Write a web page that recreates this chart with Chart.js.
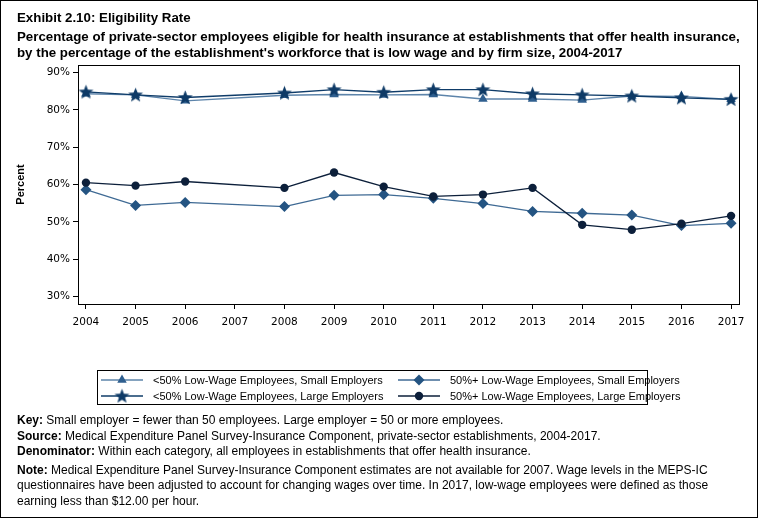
<!DOCTYPE html>
<html>
<head>
<meta charset="utf-8">
<script src="https://cdn.jsdelivr.net/npm/chart.js@4.4.1/dist/chart.umd.min.js"></script>
<style>
  body { margin: 0; background: #fff; }
  #wrap { position: relative; width: 758px; height: 518px; overflow: hidden; background: #fff; }
  #wrap canvas { position: absolute; left: 0; top: 0; }
  .frame { position: absolute; left: 0; top: 0; width: 758px; height: 518px; box-sizing: border-box; border: 1px solid #000; pointer-events: none; }
  .title { position: absolute; left: 17px; top: 10px; font-family: "Liberation Sans", Arial, sans-serif; font-weight: bold; font-size: 13.3px; line-height: 16px; color: #000; white-space: nowrap; }
  .title div.first { margin-bottom: 3px; }
  .notes { position: absolute; left: 17px; top: 413px; font-family: "Liberation Sans", Arial, sans-serif; font-size: 12px; line-height: 15.5px; color: #000; }
  .notes p { margin: 0; }
  .notes p.gap { margin-top: 3px; }
</style>
</head>
<body>
<div id="wrap">
  <canvas id="chart" width="758" height="518"></canvas>
  <div class="title">
    <div class="first">Exhibit 2.10: Eligibility Rate</div>
    <div>Percentage of private-sector employees eligible for health insurance at establishments that offer health insurance,</div>
    <div>by the percentage of the establishment's workforce that is low wage and by firm size, 2004-2017</div>
  </div>
  <div class="notes">
    <p><b>Key:</b> Small employer = fewer than 50 employees. Large employer = 50 or more employees.</p>
    <p><b>Source:</b> Medical Expenditure Panel Survey-Insurance Component, private-sector establishments, 2004-2017.</p>
    <p><b>Denominator:</b> Within each category, all employees in establishments that offer health insurance.</p>
    <p class="gap"><b>Note:</b> Medical Expenditure Panel Survey-Insurance Component estimates are not available for 2007. Wage levels in the MEPS-IC<br>
    questionnaires have been adjusted to account for changing wages over time. In 2017, low-wage employees were defined as those<br>
    earning less than $12.00 per hour.</p>
  </div>
  <div class="frame"></div>
</div>

<script>
// data (no survey in 2007)
const years = [2004, 2005, 2006, 2008, 2009, 2010, 2011, 2012, 2013, 2014, 2015, 2016, 2017];
const tickYears = [2004, 2005, 2006, 2007, 2008, 2009, 2010, 2011, 2012, 2013, 2014, 2015, 2016, 2017];
const yTicks = [30, 40, 50, 60, 70, 80, 90];

const lowUnder50Small = [84.3, 84.0, 82.4, 83.9, 84.1, 84.0, 84.1, 82.9, 82.9, 82.6, 83.7, 83.6, 82.8];
const low50PlusSmall  = [58.6, 54.4, 55.2, 54.1, 57.1, 57.3, 56.3, 54.9, 52.8, 52.3, 51.8, 49.0, 49.6];
const lowUnder50Large = [84.8, 84.0, 83.3, 84.5, 85.4, 84.7, 85.4, 85.4, 84.3, 84.0, 83.7, 83.2, 82.8];
const low50PlusLarge  = [60.5, 59.7, 60.8, 59.1, 63.2, 59.4, 56.8, 57.3, 59.1, 49.2, 47.9, 49.5, 51.6];

const seriesNames = [
  '<50% Low-Wage Employees, Small Employers',
  '50%+ Low-Wage Employees, Small Employers',
  '<50% Low-Wage Employees, Large Employers',
  '50%+ Low-Wage Employees, Large Employers'
];

// filled five point star, chart.js 'star' is only strokes
function makeStar(color) {
  const c = document.createElement('canvas');
  c.width = 17; c.height = 17;
  const g = c.getContext('2d');
  g.fillStyle = color;
  g.beginPath();
  for (let i = 0; i < 10; i++) {
    const r = i % 2 === 0 ? 7.8 : 3.3;
    const a = -Math.PI / 2 + i * Math.PI / 5;
    const px = 8.5 + r * Math.cos(a), py = 9 + r * Math.sin(a);
    if (i === 0) g.moveTo(px, py); else g.lineTo(px, py);
  }
  g.closePath();
  g.fill();
  return c;
}

const pts = (vals) => years.map((yr, i) => ({ x: yr, y: vals[i] }));

const datasets = [
  { label: seriesNames[0], data: pts(lowUnder50Small), borderColor: '#5d84aa', backgroundColor: '#2f5f8f',
    pointStyle: 'triangle', pointRadius: 5.5, order: 3 },
  { label: seriesNames[1], data: pts(low50PlusSmall), borderColor: '#3f6a94', backgroundColor: '#245482',
    pointStyle: 'rectRot', pointRadius: 5.5, order: 2 },
  { label: seriesNames[2], data: pts(lowUnder50Large), borderColor: '#0f3c69', backgroundColor: '#0e3a66',
    pointStyle: makeStar('#0e3a66'), order: 1 },
  { label: seriesNames[3], data: pts(low50PlusLarge), borderColor: '#0c1f3a', backgroundColor: '#0c1f3a',
    pointStyle: 'circle', pointRadius: 4.2, order: 0 }
];
datasets.forEach(d => {
  d.borderWidth = 1.3;
  d.pointBorderWidth = 0;
  d.pointBorderColor = d.backgroundColor;
  d.pointBackgroundColor = d.backgroundColor;
  d.tension = 0;
  d.fill = false;
});

const frameAndLegend = {
  id: 'frameAndLegend',
  afterDraw(chart) {
    const ctx = chart.ctx;
    const a = chart.chartArea;
    ctx.save();
    ctx.strokeStyle = '#000';
    ctx.lineWidth = 1;
    ctx.strokeRect(Math.round(a.left) + 0.5, Math.round(a.top) + 0.5, Math.round(a.right - a.left), Math.round(a.bottom - a.top));

    // legend box below the axis
    ctx.strokeRect(97.5, 370.5, 550, 34);
    ctx.font = '11px "Liberation Sans", Arial, sans-serif';
    ctx.textBaseline = 'middle';
    chart.data.datasets.forEach((ds, i) => {
      const x0 = i % 2 === 0 ? 101 : 398;
      const y = i < 2 ? 380 : 396;
      ctx.strokeStyle = ds.borderColor;
      ctx.lineWidth = 1.3;
      ctx.beginPath();
      ctx.moveTo(x0, y);
      ctx.lineTo(x0 + 42, y);
      ctx.stroke();
      ctx.fillStyle = ds.backgroundColor;
      Chart.helpers.drawPoint(ctx, { pointStyle: ds.pointStyle, radius: ds.pointRadius || 5, rotation: 0, borderWidth: 0 }, x0 + 21, y);
      ctx.fillStyle = '#000';
      ctx.fillText(ds.label, x0 + 52, y + 0.5);
    });
    ctx.restore();
  }
};

new Chart(document.getElementById('chart'), {
  type: 'line',
  data: { datasets },
  options: {
    responsive: false,
    animation: false,
    layout: { padding: { top: 65, right: 19, bottom: 184, left: 0 } },
    plugins: { legend: { display: false }, tooltip: { enabled: false } },
    scales: {
      x: {
        type: 'linear',
        min: 2003.84,
        max: 2017.16,
        afterBuildTicks: (axis) => { axis.ticks = tickYears.map(v => ({ value: v })); },
        afterFit: (axis) => { axis.height = 30; },
        grid: { drawOnChartArea: false, drawTicks: true, tickLength: 5, color: '#000' },
        border: { color: '#000' },
        ticks: { color: '#000', font: { family: 'DejaVu Sans', size: 10.5 }, padding: 7, maxRotation: 0,
                 callback: (v) => String(v) }
      },
      y: {
        min: 28,
        max: 92,
        afterBuildTicks: (axis) => { axis.ticks = yTicks.map(v => ({ value: v })); },
        afterFit: (axis) => { axis.width = 78; },
        grid: { drawOnChartArea: false, drawTicks: true, tickLength: 5, color: '#000' },
        border: { color: '#000' },
        title: { display: true, text: 'Percent', color: '#000',
                 font: { family: 'Liberation Sans', size: 11, weight: 'bold' }, padding: { top: 14, bottom: 0 } },
        ticks: { color: '#000', font: { family: 'DejaVu Sans', size: 10.5 }, padding: 3,
                 callback: (v) => v + '%' }
      }
    }
  },
  plugins: [frameAndLegend]
});
</script>
</body>
</html>
